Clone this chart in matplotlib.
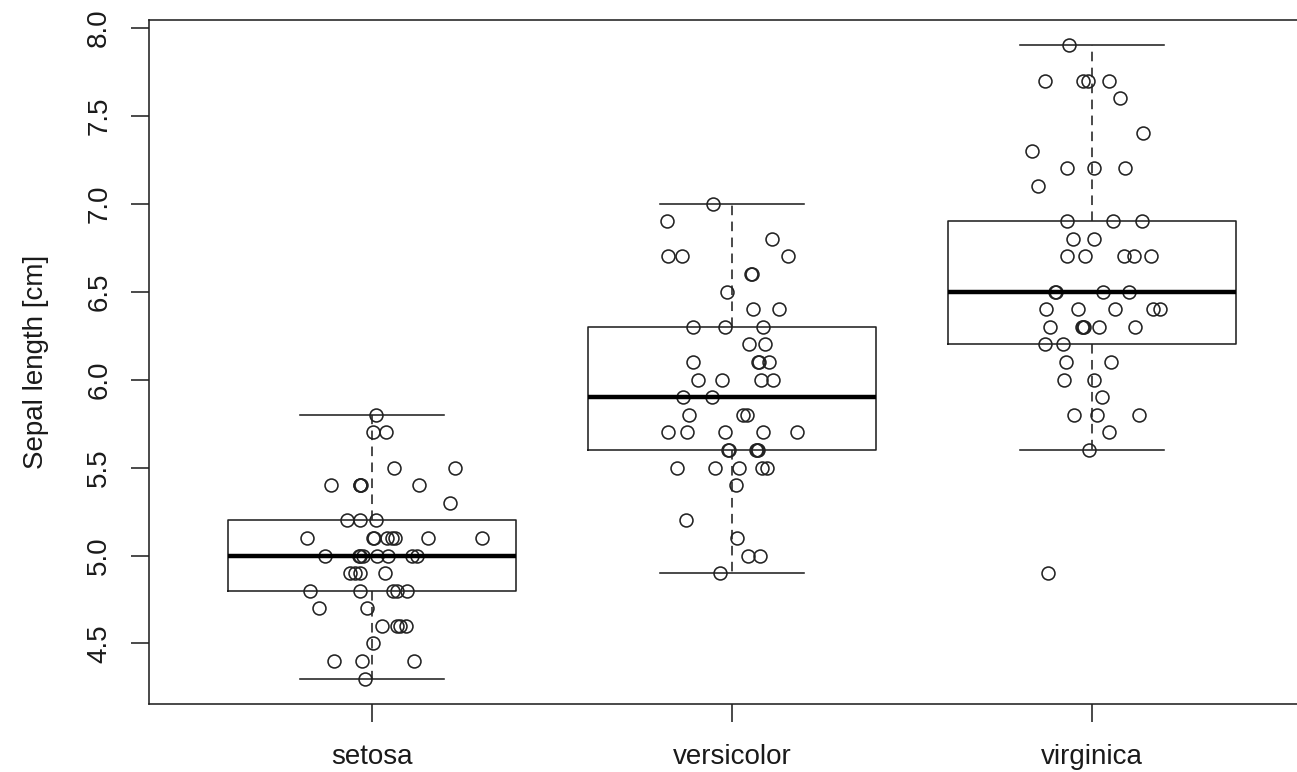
import numpy as np
import matplotlib
matplotlib.use("Agg")
import matplotlib.pyplot as plt

plt.rcParams['font.family'] = ['Liberation Sans', 'DejaVu Sans']

species = ["setosa", "versicolor", "virginica"]

setosa_vals = [5.8, 5.7, 5.7, 5.5, 5.5, 5.4, 5.4, 5.4, 5.4, 5.4, 5.3, 5.2, 5.2, 5.2,
               5.1, 5.1, 5.1, 5.1, 5.1, 5.1, 5.1, 5.1,
               5.0, 5.0, 5.0, 5.0, 5.0, 5.0, 5.0, 5.0,
               4.9, 4.9, 4.9, 4.9, 4.8, 4.8, 4.8, 4.8, 4.8, 4.7, 4.7,
               4.6, 4.6, 4.6, 4.6, 4.5, 4.4, 4.4, 4.4, 4.3]
setosa_jit = [0.011, 0.002, 0.038, 0.061, 0.229, -0.114, -0.035, -0.033, -0.031, 0.131,
              0.217, -0.069, -0.033, 0.011,
              -0.181, 0.001, 0.004, 0.041, 0.055, 0.064, 0.155, 0.305,
              -0.131, -0.038, -0.035, -0.026, 0.013, 0.045, 0.110, 0.124,
              -0.061, -0.047, -0.033, 0.036, -0.174, -0.033, 0.059, 0.069, 0.096,
              -0.148, -0.014, 0.026, 0.069, 0.078, 0.094, 0.002,
              -0.106, -0.029, 0.115, -0.019]

versicolor_vals = [7.0, 6.9, 6.8, 6.7, 6.7, 6.7, 6.6, 6.6, 6.5, 6.4, 6.4,
                   6.3, 6.3, 6.3, 6.2, 6.2, 6.1, 6.1, 6.1, 6.1, 6.0, 6.0, 6.0, 6.0,
                   5.9, 5.9, 5.8, 5.8, 5.8, 5.7, 5.7, 5.7, 5.7, 5.7,
                   5.6, 5.6, 5.6, 5.6, 5.6, 5.5, 5.5, 5.5, 5.5, 5.5,
                   5.4, 5.2, 5.1, 5.0, 5.0, 4.9]
versicolor_jit = [-0.052, -0.181, 0.110, -0.177, -0.140, 0.154, 0.053, 0.056, -0.015,
                  0.059, 0.131, -0.110, -0.019, 0.085, 0.048, 0.090,
                  -0.108, 0.071, 0.075, 0.103, -0.096, -0.029, 0.081, 0.112,
                  -0.137, -0.055, -0.121, 0.029, 0.041,
                  -0.177, -0.126, -0.021, 0.085, 0.181,
                  -0.013, -0.008, 0.065, 0.068, 0.072,
                  -0.152, -0.047, 0.020, 0.083, 0.096,
                  0.011, -0.128, 0.013, 0.044, 0.076, -0.033]

virginica_vals = [7.9, 7.7, 7.7, 7.7, 7.7, 7.6, 7.4, 7.3, 7.2, 7.2, 7.2, 7.1,
                  6.9, 6.9, 6.9, 6.8, 6.8, 6.7, 6.7, 6.7, 6.7, 6.7,
                  6.5, 6.5, 6.5, 6.5, 6.4, 6.4, 6.4, 6.4, 6.4,
                  6.3, 6.3, 6.3, 6.3, 6.3, 6.3, 6.2, 6.2, 6.1, 6.1, 6.0, 6.0,
                  5.9, 5.8, 5.8, 5.8, 5.7, 5.6, 4.9]
virginica_jit = [-0.064, -0.131, -0.026, -0.012, 0.048, 0.076, 0.141, -0.166,
                 -0.069, 0.006, 0.092, -0.151,
                 -0.069, 0.058, 0.138, -0.054, 0.006,
                 -0.070, -0.019, 0.087, 0.115, 0.164,
                 -0.104, -0.101, 0.029, 0.101,
                 -0.128, -0.040, 0.062, 0.168, 0.189,
                 -0.117, -0.028, -0.026, -0.024, 0.018, 0.119,
                 -0.131, -0.080, -0.072, 0.052, -0.077, 0.006,
                 0.027, -0.050, 0.013, 0.131, 0.048, -0.008, -0.123]

groups = [setosa_vals, versicolor_vals, virginica_vals]
jitters = [setosa_jit, versicolor_jit, virginica_jit]
yticks = [4.5, 5.0, 5.5, 6.0, 6.5, 7.0, 7.5, 8.0]
ylabel = "Sepal length [cm]"


def tukey_stats(vals, label):
    v = np.sort(np.asarray(vals))
    n = len(v)
    med = np.median(v)
    half = v[: (n + 1) // 2]
    upper = v[n // 2:]
    q1 = np.median(half)
    q3 = np.median(upper)
    iqr = q3 - q1
    lo = v[v >= q1 - 1.5 * iqr].min()
    hi = v[v <= q3 + 1.5 * iqr].max()
    return dict(med=med, q1=q1, q3=q3, whislo=lo, whishi=hi, fliers=[], label=label)


LINE = '#222222'
fig = plt.figure(figsize=(12.97, 7.72), dpi=100)
ax = fig.add_axes([149 / 1297, 68 / 772, 1166.4 / 1297, 684 / 772])

stats = [tukey_stats(g, s) for g, s in zip(groups, species)]
ax.bxp(stats, positions=[1, 2, 3], widths=0.8, capwidths=0.4, showfliers=False,
       boxprops=dict(color=LINE, linewidth=1.15),
       medianprops=dict(color='black', linewidth=3.2, solid_capstyle='butt'),
       whiskerprops=dict(color=LINE, linewidth=1.15, linestyle=(0, (6, 4))),
       capprops=dict(color=LINE, linewidth=1.15))

for i, (g, j) in enumerate(zip(groups, jitters)):
    xs = (i + 1) + np.asarray(j)
    ax.plot(xs, g, linestyle='none', marker='o', markersize=9.3,
            markerfacecolor='none', markeredgecolor=LINE, markeredgewidth=1.15)

ax.set_xlim(0.38, 3.62)
ax.set_ylim(4.156, 8.044)
ax.set_xticks([1, 2, 3])
ax.set_xticklabels(species)
ax.set_yticks(yticks)
ax.set_yticklabels([f"{t:.1f}" for t in yticks], rotation=90, va='center')
ax.tick_params(axis='both', length=13, width=1.15, labelsize=20, color=LINE,
               labelcolor='#1a1a1a')
ax.tick_params(axis='x', pad=16)
ax.tick_params(axis='y', pad=13.5)
ax.set_ylabel(ylabel, fontsize=20, labelpad=27, color='#1a1a1a')
for sp in ax.spines.values():
    sp.set_linewidth(1.15)
    sp.set_color(LINE)

fig.savefig("out.png", dpi=100)
